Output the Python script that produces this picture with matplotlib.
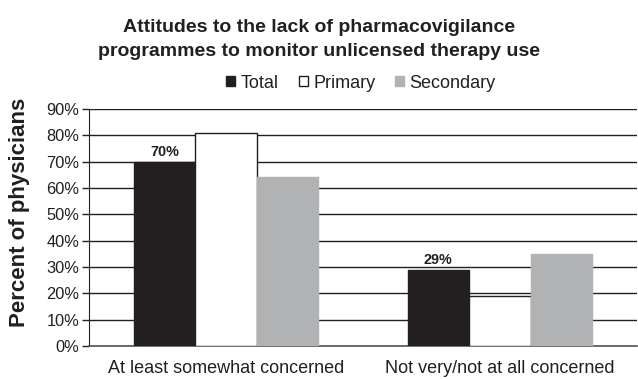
import numpy as np
import matplotlib
matplotlib.use('Agg')
import matplotlib.pyplot as plt

plt.rcParams['font.family'] = ['Liberation Sans', 'DejaVu Sans']

categories = ["At least somewhat concerned", "Not very/not at all concerned"]
series = ["Total", "Primary", "Secondary"]
total = [70, 29]
primary = [81, 19]
secondary = [64, 35]
yticks = [0, 10, 20, 30, 40, 50, 60, 70, 80, 90]

colors = ["#231f20", "#ffffff", "#b1b2b4"]
edges = ["#231f20", "#231f20", "#b1b2b4"]

fig = plt.figure(figsize=(6.38, 3.79), dpi=100)
ax = fig.add_axes([89 / 638, 1 - 346 / 379, 548 / 638, 237 / 379])

x = np.arange(len(categories))
w = 0.225
for i, (vals, c, ec, name) in enumerate(zip([total, primary, secondary], colors, edges, series)):
    ax.bar(x + (i - 1) * w, vals, width=w, color=c, edgecolor=ec,
           linewidth=1.0, label=name, zorder=3)

# labels on the Total bars
for xi, v in zip(x, total):
    ax.text(xi - w, v + 2.3, f"{v}%", ha="center", va="baseline",
            fontsize=10.4, fontweight="bold", color="#231f20")

ax.set_xlim(-0.5, 1.5)
ax.set_ylim(0, 90)
ax.set_yticks(yticks)
ax.set_yticklabels([f"{t}%" for t in yticks], fontsize=11.8, color="#231f20")
ax.set_xticks(x)
ax.set_xticklabels(categories, fontsize=13, color="#231f20")
ax.tick_params(axis="x", length=0, pad=10)
ax.tick_params(axis="y", length=5, width=1, color="#231f20", pad=2)
ax.yaxis.grid(True, color="#231f20", linewidth=1.0, zorder=0)
ax.set_axisbelow(True)
for s in ["top", "right"]:
    ax.spines[s].set_visible(False)
ax.spines["left"].set_color("#231f20")
ax.spines["bottom"].set_color("#555555")
ax.spines["bottom"].set_linewidth(1.2)

ax.set_ylabel("Percent of physicians", fontsize=16, fontweight="bold",
              color="#231f20")
ax.yaxis.set_label_coords(-0.108, 0.565)

fig.text(0.5, 1 - 32 / 379, "Attitudes to the lack of pharmacovigilance",
         ha="center", va="baseline", fontsize=14, fontweight="bold", color="#231f20")
fig.text(0.5, 1 - 56 / 379, "programmes to monitor unlicensed therapy use",
         ha="center", va="baseline", fontsize=14, fontweight="bold", color="#231f20")

fig.legend(loc="center", bbox_to_anchor=(0.566, 1 - 83 / 379), ncol=3,
           frameon=False, fontsize=13, handlelength=0.5, handleheight=0.5,
           handletextpad=0.3, columnspacing=1.1, labelcolor="#231f20",
           borderpad=0, borderaxespad=0)

plt.savefig("out.png", dpi=100)
plt.close()
